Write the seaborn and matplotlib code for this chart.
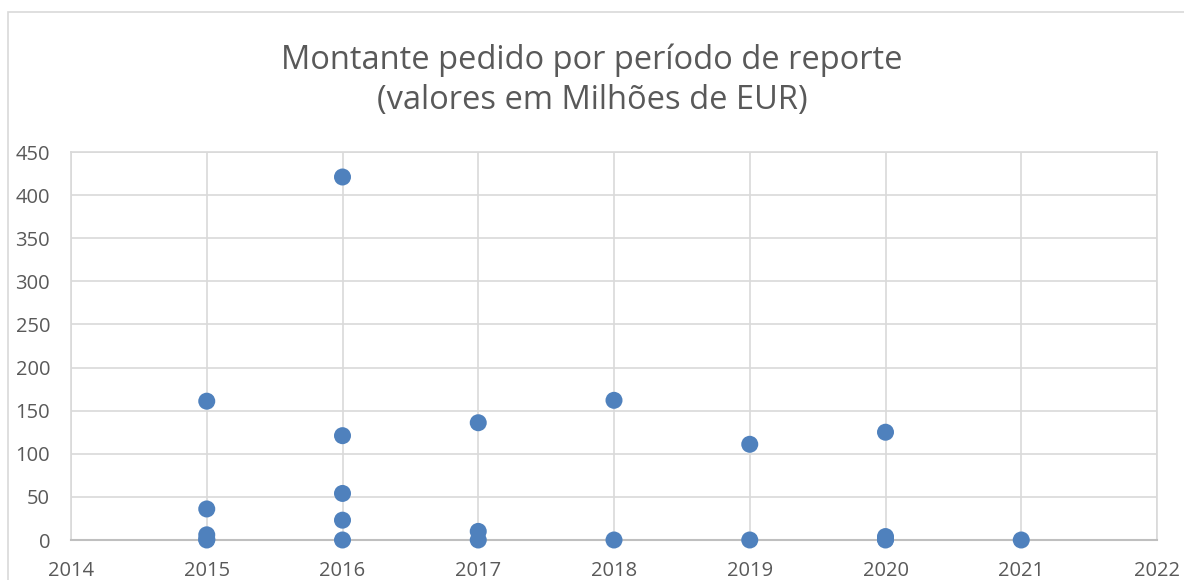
import matplotlib
matplotlib.use("Agg")
import matplotlib.pyplot as plt
import seaborn as sns
import pandas as pd
from matplotlib.patches import Rectangle

years = [2015, 2015, 2015, 2015, 2015,
         2016, 2016, 2016, 2016, 2016,
         2017, 2017, 2017,
         2018, 2018,
         2019, 2019,
         2020, 2020, 2020, 2020,
         2021]
amounts = [161, 36, 6, 1, 0,
           421, 121, 54, 23, 0,
           136, 10, 0,
           162, 0,
           111, 0,
           125, 4, 1, 0,
           0]
x_ticks = list(range(2014, 2023))
y_ticks = list(range(0, 451, 50))
title = "Montante pedido por período de reporte\n(valores em Milhões de EUR)"

df = pd.DataFrame({"ano": years, "montante": amounts})

sns.set_theme(style="white")
plt.rcParams['font.family'] = ['Open Sans', 'DejaVu Sans']

fig = plt.figure(figsize=(11.84, 5.8), dpi=100)
ax = fig.add_axes([71/1184, 1 - 540/580, (1157 - 71)/1184, (540 - 152)/580])

fig.patches.append(Rectangle((8/1184, -0.1), 1.2, 1 - 12/580 + 0.1, transform=fig.transFigure,
                             fill=False, edgecolor="#d9d9d9", linewidth=1.2))

sns.scatterplot(data=df, x="ano", y="montante", ax=ax, s=150, color="#4F81BD",
                edgecolor="none", clip_on=False, zorder=3)

ax.set_xlim(2014, 2022)
ax.set_ylim(0, 450)
ax.set_xticks(x_ticks)
ax.set_yticks(y_ticks)
ax.grid(True, color="#d9d9d9", linewidth=1.2)
ax.set_axisbelow(True)
for side in ["top", "right", "left"]:
    ax.spines[side].set_visible(True)
    ax.spines[side].set_color("#d9d9d9")
    ax.spines[side].set_linewidth(1.2)
ax.spines["bottom"].set_color("#bfbfbf")
ax.spines["bottom"].set_linewidth(1.5)
ax.tick_params(axis="both", length=0, labelsize=14.5, colors="#595959")
ax.tick_params(axis="x", pad=15)
ax.tick_params(axis="y", pad=15)
ax.set_xlabel("")
ax.set_ylabel("")

fig.text(0.5, 1 - 80/580, title, ha="center", va="center", fontsize=23.5,
         color="#595959", linespacing=1.3)

fig.savefig("out.png", dpi=100)
